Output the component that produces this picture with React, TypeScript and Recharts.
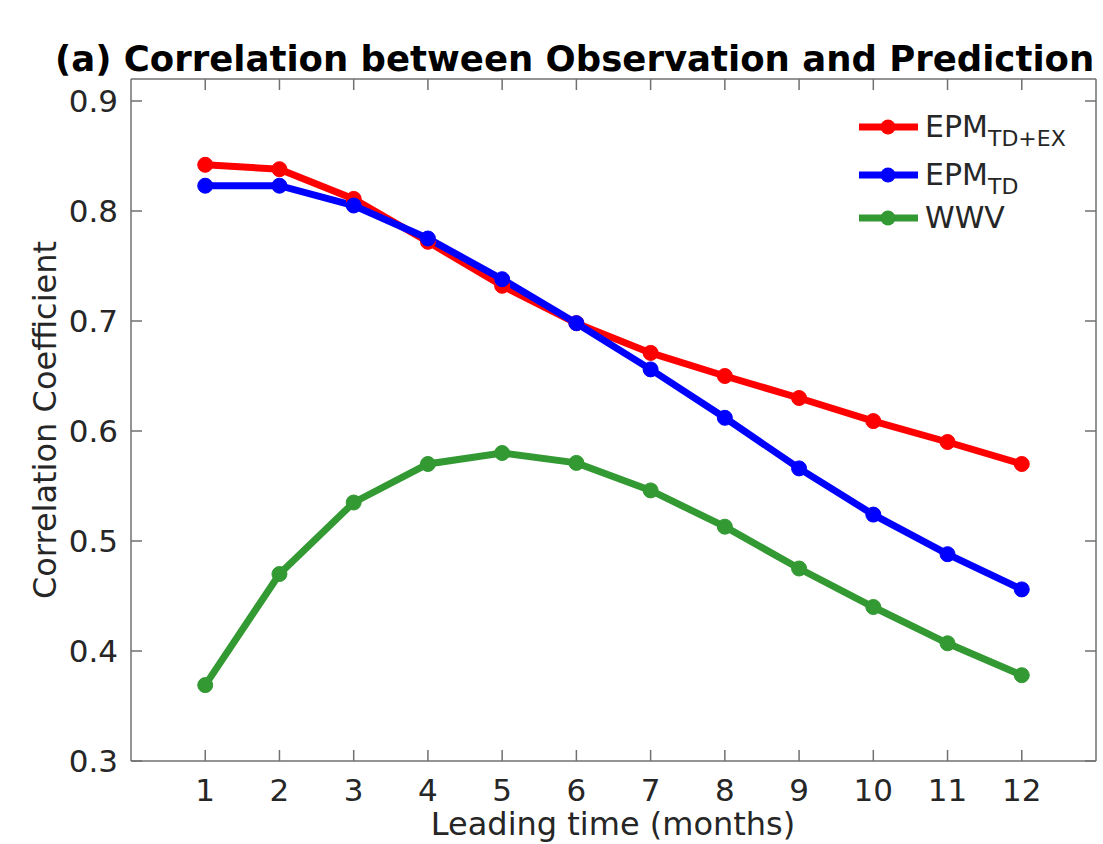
import React from 'react';
import { LineChart, Line, XAxis, YAxis } from 'recharts';

const months = [1, 2, 3, 4, 5, 6, 7, 8, 9, 10, 11, 12];
const epmTdEx = [0.842, 0.838, 0.811, 0.772, 0.732, 0.698, 0.671, 0.65, 0.63, 0.609, 0.59, 0.57];
const epmTd = [0.823, 0.823, 0.805, 0.775, 0.738, 0.698, 0.656, 0.612, 0.566, 0.524, 0.488, 0.456];
const wwv = [0.369, 0.47, 0.535, 0.57, 0.58, 0.571, 0.546, 0.513, 0.475, 0.44, 0.407, 0.378];
const yTicks = [0.3, 0.4, 0.5, 0.6, 0.7, 0.8, 0.9];

const RED = '#ff0000';
const BLUE = '#0000ff';
const GREEN = '#339933';
const AXIS = '#707070';
const TEXT = '#262626';
const FONT = '"DejaVu Sans", Verdana, sans-serif';
const TICK_LEN = 11;

const data = months.map((m, i) => ({ x: m, red: epmTdEx[i], blue: epmTd[i], green: wwv[i] }));

const BottomTick = ({ x, y, payload }: any) => (
  <g>
    <line x1={x} y1={y} x2={x} y2={y - TICK_LEN} stroke={AXIS} strokeWidth={1.5} />
    <text x={x} y={y + 40} textAnchor="middle" fontSize={31} fill={TEXT} fontFamily={FONT}>
      {payload.value}
    </text>
  </g>
);

const LeftTick = ({ x, y, payload }: any) => (
  <g>
    <line x1={x} y1={y} x2={x + TICK_LEN} y2={y} stroke={AXIS} strokeWidth={1.5} />
    <text x={x - 13} y={y + 11} textAnchor="end" fontSize={31} fill={TEXT} fontFamily={FONT}>
      {payload.value.toFixed(1)}
    </text>
  </g>
);

const TopTick = ({ x, y }: any) => (
  <line x1={x} y1={y} x2={x} y2={y + TICK_LEN} stroke={AXIS} strokeWidth={1.5} />
);

const RightTick = ({ x, y }: any) => (
  <line x1={x} y1={y} x2={x - TICK_LEN} y2={y} stroke={AXIS} strokeWidth={1.5} />
);

const legendItems = [
  { color: RED, main: 'EPM', sub: 'TD+EX', top: 127 },
  { color: BLUE, main: 'EPM', sub: 'TD', top: 175 },
  { color: GREEN, main: 'WWV', sub: '', top: 218 },
];

const Legend = () => (
  <>
    {legendItems.map((it) => (
      <div
        key={it.main + it.sub}
        style={{ position: 'absolute', left: 858, top: it.top - 24, height: 48, display: 'flex', alignItems: 'center' }}
      >
        <svg width={62} height={48}>
          <line x1={1} y1={24} x2={60} y2={24} stroke={it.color} strokeWidth={7} />
          <circle cx={30} cy={24} r={7.5} fill={it.color} />
        </svg>
        <span style={{ fontFamily: FONT, fontSize: 30, color: TEXT, marginLeft: 5, lineHeight: '30px' }}>
          {it.main}
          {it.sub && <sub style={{ fontSize: 22, verticalAlign: '-9px', lineHeight: 0 }}>{it.sub}</sub>}
        </span>
      </div>
    ))}
  </>
);

export default function App() {
  return (
    <div style={{ position: 'absolute', left: 0, top: 0, width: 1103, height: 844, overflow: 'hidden', background: '#fff' }}>
      <LineChart width={1103} height={844} data={data} margin={{ top: 78, right: 6, bottom: 0, left: 0 }}>
        <XAxis
          dataKey="x"
          type="number"
          domain={[0, 13]}
          ticks={months}
          interval={0}
          height={83}
          tickSize={0}
          tickMargin={0}
          tick={<BottomTick />}
          stroke={AXIS}
          strokeWidth={1.5}
          allowDataOverflow
        />
        {/* top and right axes only carry the box edges and inward ticks */}
        <XAxis
          xAxisId="top"
          orientation="top"
          dataKey="x"
          type="number"
          domain={[0, 13]}
          ticks={months}
          interval={0}
          height={1}
          tickSize={0}
          tickMargin={0}
          tick={<TopTick />}
          stroke={AXIS}
          strokeWidth={1.5}
          allowDataOverflow
        />
        <YAxis
          type="number"
          domain={[0.3, 0.92]}
          ticks={yTicks}
          interval={0}
          width={131}
          tickSize={0}
          tickMargin={0}
          tick={<LeftTick />}
          stroke={AXIS}
          strokeWidth={1.5}
          allowDataOverflow
        />
        <YAxis
          yAxisId="right"
          orientation="right"
          type="number"
          domain={[0.3, 0.92]}
          ticks={yTicks}
          interval={0}
          width={1}
          tickSize={0}
          tickMargin={0}
          tick={<RightTick />}
          stroke={AXIS}
          strokeWidth={1.5}
          allowDataOverflow
        />
        <Line dataKey="red" stroke={RED} strokeWidth={7} dot={{ r: 7.5, fill: RED, stroke: RED, strokeWidth: 1 }} isAnimationActive={false} />
        <Line dataKey="blue" stroke={BLUE} strokeWidth={7} dot={{ r: 7.5, fill: BLUE, stroke: BLUE, strokeWidth: 1 }} isAnimationActive={false} />
        <Line
          dataKey="green"
          xAxisId="top"
          yAxisId="right"
          stroke={GREEN}
          strokeWidth={7}
          dot={{ r: 7.5, fill: GREEN, stroke: GREEN, strokeWidth: 1 }}
          isAnimationActive={false}
        />
      </LineChart>
      <div
        style={{
          position: 'absolute',
          left: 55,
          top: 38,
          fontFamily: FONT,
          fontWeight: 'bold',
          fontSize: 35.5,
          lineHeight: '42px',
          whiteSpace: 'nowrap',
          color: '#000',
        }}
      >
        (a) Correlation between Observation and Prediction
      </div>
      <div
        style={{
          position: 'absolute',
          left: 45,
          top: 420,
          transform: 'translate(-50%, -50%) rotate(-90deg)',
          fontFamily: FONT,
          fontSize: 32,
          color: TEXT,
          whiteSpace: 'nowrap',
        }}
      >
        Correlation Coefficient
      </div>
      <div
        style={{
          position: 'absolute',
          left: 613,
          top: 805,
          transform: 'translateX(-50%)',
          fontFamily: FONT,
          fontSize: 32,
          lineHeight: '38px',
          color: TEXT,
          whiteSpace: 'nowrap',
        }}
      >
        Leading time (months)
      </div>
      <Legend />
    </div>
  );
}
